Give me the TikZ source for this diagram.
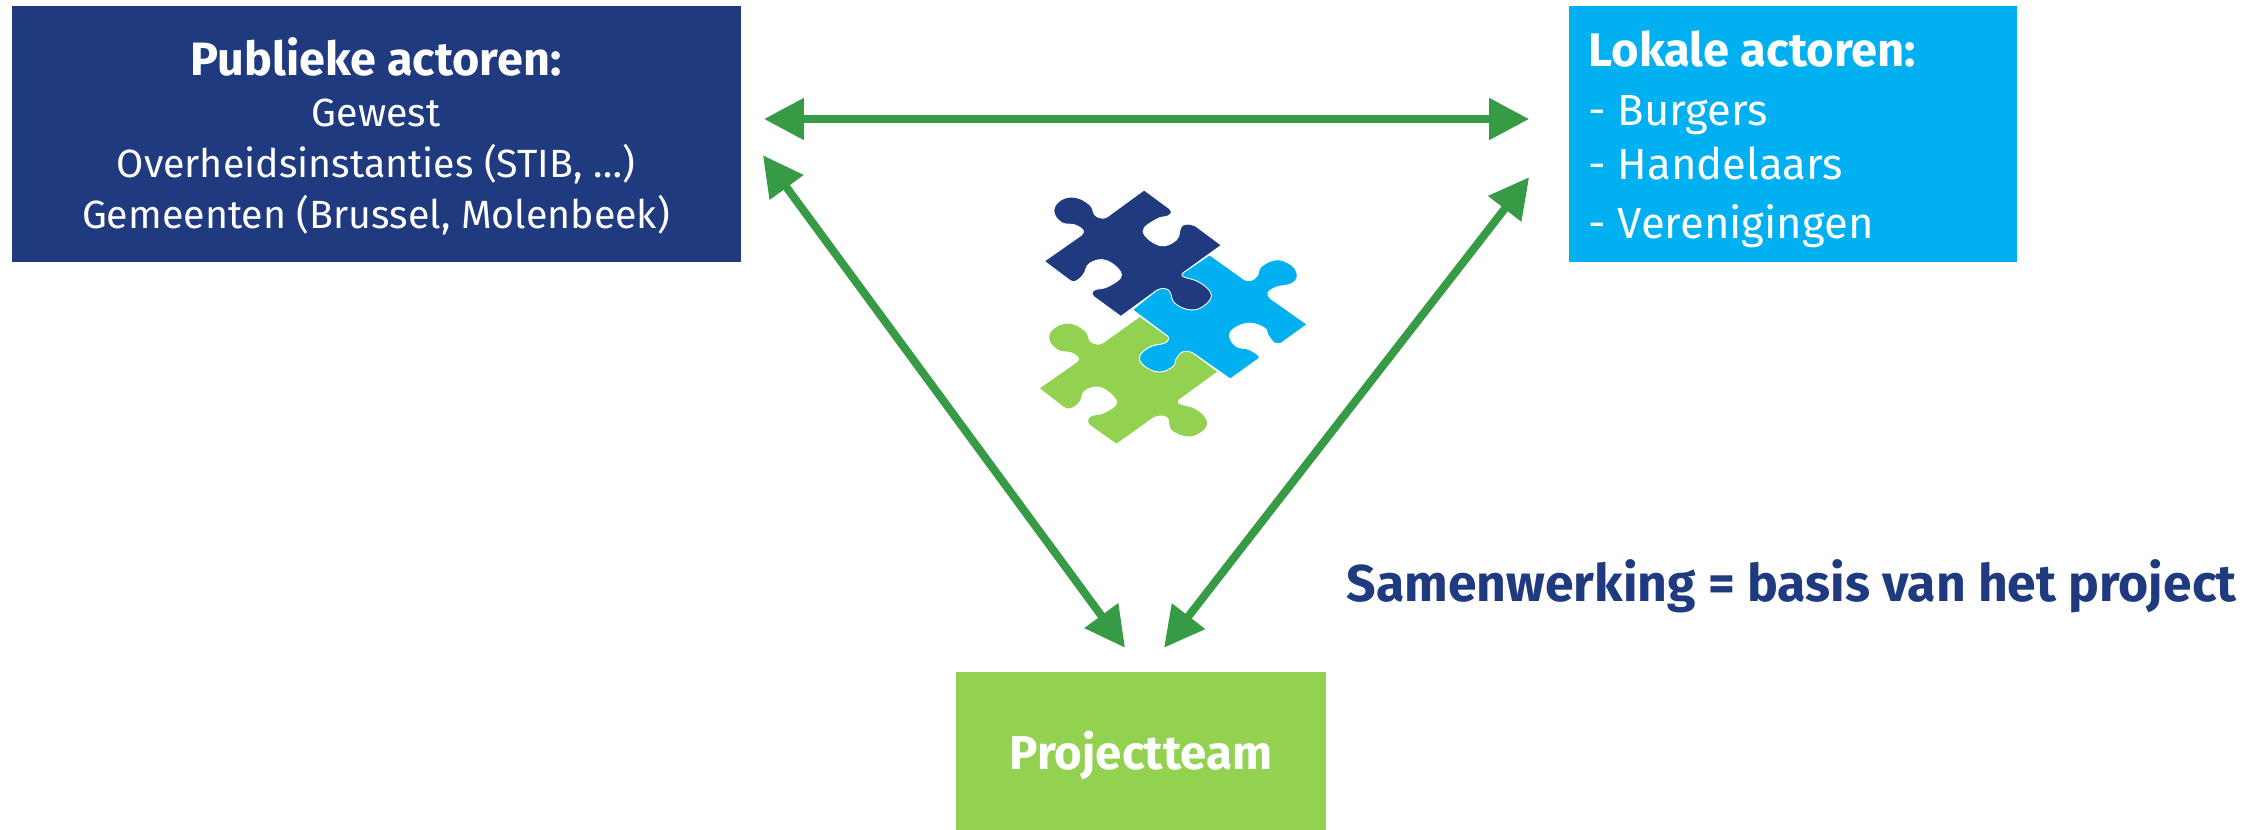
\documentclass[tikz,border=0pt]{standalone}
\usepackage{fontspec}
\setmainfont{Fira Sans}
\usetikzlibrary{arrows.meta,positioning}
\definecolor{navy}{HTML}{1F3A7F}
\definecolor{sky}{HTML}{00B0F0}
\definecolor{leaf}{HTML}{92D250}
\definecolor{arrowgreen}{HTML}{379B45}
\begin{document}
\begin{tikzpicture} [
      x = 0.01cm, y = -0.01cm,
      every node/.style = { inner sep = 0, text = white, font = \fontsize{11.2}{14.5}\selectfont },
      actor/.style = { minimum height = 2.56cm, align = center },
      link/.style = { arrowgreen, line width = 0.08cm, {Triangle[length=0.4cm,width=0.4cm]}-{Triangle[length=0.4cm,width=0.4cm]} },
      piece/.style = { draw = white, line width = 0.25pt }
      ]
  \useasboundingbox (0,0) rectangle (2267,829);

  \node [actor, fill = navy, minimum width = 7.29cm] (publiek) at (376.5,134) {};
  \node [align = center, anchor = north, yshift = -1pt] (publiektext) at (376,33)
    {{\fontsize{13.3}{14.5}\selectfont\bfseries Publieke actoren:}\\Gewest\\Overheidsinstanties (STIB, \ldots)\\Gemeenten (Brussel, Molenbeek)};
  \node [actor, fill = sky, minimum width = 4.48cm] (lokaal) at (1793,134) {};
  \node [align = left, anchor = north west, font = \fontsize{12.4}{15.2}\selectfont] (lokaaltext) at (1588,30)
    {{\fontsize{13.4}{15.2}\selectfont\bfseries Lokale actoren:}\\[1.6pt]- Burgers\\- Handelaars\\[1.6pt]- Verenigingen};
  \node [fill = leaf, minimum width = 3.7cm, minimum height = 1.57cm] (team) at (1141,751) {};
  \node [font = \fontsize{13.5}{16}\selectfont\bfseries, yshift = -1pt] (teamtext) at (1141,752) {Projectteam};
  \node [text = navy, font = \fontsize{14.7}{16}\selectfont\bfseries, anchor = base west] (motto) at (1346,601) {Samenwerking = basis van het project};

  \draw [link] ([shift={(22,-15)}]publiek.east) -- ([shift={(-39,-15)}]lokaal.west);
  \draw [link] ([shift={(21,150)}]publiek.north east) -- ([shift={(-16,-24)}]team.north);
  \draw [link] ([shift={(-39,172)}]lokaal.north west) -- ([shift={(23,-24)}]team.north);

  % puzzle pieces, traced in crop coordinates
  \begin{scope} [shift = {(1000,160)}, x = 0.00333cm, y = -0.00333cm, tension = 0.7]
    \fill [leaf] (420,472) -- (495,525) -- plot [smooth] coordinates {(495,525) (507,537) (495,550) (455,558) (418,590) (435,620) (480,638) (520,620) (530,590) (560,575) (580,582)} -- (652,636) -- (540,718) -- plot [smooth] coordinates {(540,718) (538,733) (590,750) (622,788) (600,820) (560,830) (515,810) (505,775) (478,768) (458,775)} -- (350,852) -- (272,797) -- plot [smooth] coordinates {(272,797) (265,785) (275,770) (315,760) (352,727) (305,683) (255,692) (238,727) (210,746) (190,740)} -- (120,686) -- (230,609) -- plot [smooth] coordinates {(230,609) (238,595) (215,578) (175,570) (148,537) (165,505) (210,492) (255,515) (270,545) (295,555) (315,547)} -- cycle;
    \fill [sky, piece] (630,285) -- (735,360) -- plot [smooth] coordinates {(735,360) (755,362) (775,345) (785,320) (830,300) (875,315) (893,347) (875,372) (830,382) (805,400) (815,418)} -- (923,494) -- (845,550) -- plot [smooth] coordinates {(845,550) (825,550) (805,525) (795,505) (750,490) (705,505) (690,530) (710,560) (750,570) (778,590) (770,602)} -- (692,658) -- (580,580) -- plot [smooth] coordinates {(580,580) (565,575) (545,578) (528,600) (520,620) (480,637) (435,620) (420,590) (450,562) (495,550) (507,535) (498,525)} -- (398,450) -- (470,392) -- (548,340) -- cycle;
    \fill [navy, piece] (433,90) -- (505,143) -- plot [smooth] coordinates {(505,143) (515,155) (505,168) (470,178) (430,215) (480,257) (530,240) (545,200) (570,193) (590,200)} -- (665,256) -- (553,337) -- plot [smooth] coordinates {(553,337) (550,350) (600,368) (635,405) (610,440) (570,450) (525,430) (510,395) (490,386) (470,392)} -- (363,470) -- (285,413) -- plot [smooth] coordinates {(285,413) (277,403) (285,390) (325,380) (365,345) (320,302) (270,310) (250,345) (225,365) (205,358)} -- (133,304) -- (243,227) -- plot [smooth] coordinates {(243,227) (250,212) (225,195) (185,188) (162,155) (180,122) (225,112) (270,135) (285,165) (310,175) (330,165)} -- cycle;
  \end{scope}
\end{tikzpicture}
\end{document}
